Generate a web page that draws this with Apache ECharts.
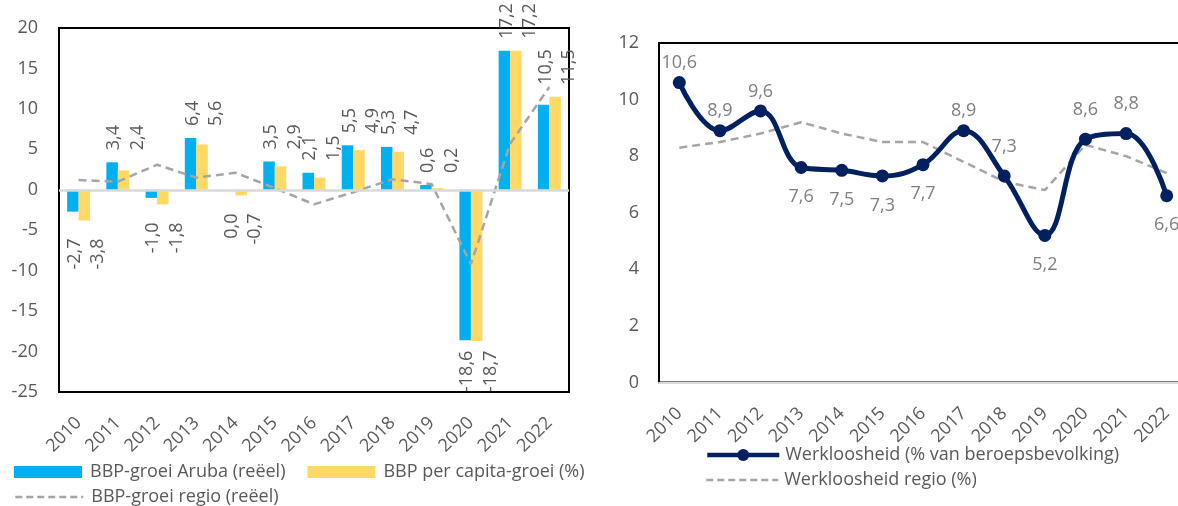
<!DOCTYPE html>
<html>
<head>
<meta charset="utf-8">
<script src="https://cdn.jsdelivr.net/npm/echarts@6/dist/echarts.min.js"></script>
<style>
  html, body { margin: 0; padding: 0; background: #fff; overflow: hidden; width: 1178px; height: 506px; }
  #chart { width: 1200px; height: 506px; }
</style>
</head>
<body>
<div id="chart"></div>
<script>
// ---- Data ----
const years = ['2010','2011','2012','2013','2014','2015','2016','2017','2018','2019','2020','2021','2022'];
const gdpAruba     = [-2.7, 3.4, -1.0, 6.4, 0.0, 3.5, 2.1, 5.5, 5.3, 0.6, -18.6, 17.2, 10.5];
const gdpPerCapita = [-3.8, 2.4, -1.8, 5.6, -0.7, 2.9, 1.5, 4.9, 4.7, 0.2, -18.7, 17.2, 11.5];
const gdpRegion    = [1.2, 1.0, 3.1, 1.5, 2.1, 0.2, -1.8, -0.3, 1.3, 0.7, -9.2, 5.7, 12.7];
const unemployment       = [10.6, 8.9, 9.6, 7.6, 7.5, 7.3, 7.7, 8.9, 7.3, 5.2, 8.6, 8.8, 6.6];
const unemploymentRegion = [8.3, 8.5, 8.8, 9.2, 8.8, 8.5, 8.5, 7.8, 7.1, 6.8, 8.4, 8.0, 7.4];

const seriesNames = {
  aruba: 'BBP-groei Aruba (reëel)',
  capita: 'BBP per capita-groei (%)',
  region: 'BBP-groei regio (reëel)',
  unemp: 'Werkloosheid (% van beroepsbevolking)',
  unempRegion: 'Werkloosheid regio (%)'
};

// ---- Styling ----
const FONT = "'Open Sans', sans-serif";
const TXT = '#595959';
const LBL2 = '#7F7F7F';
const fmt = v => v.toFixed(1).replace('.', ',');

// left grid geometry (style)
const G0 = { left: 59, top: 28, width: 510, height: 364 };
const Y0MIN = -25, Y0MAX = 20;
const PPU = G0.height / (Y0MAX - Y0MIN);

const measureCtx = document.createElement('canvas').getContext('2d');
measureCtx.font = "18px 'Open Sans'";
const textLen = s => measureCtx.measureText(s).width;

// Excel-like label placement: both labels of a year sit at the same height
function barData(arr, other, xShift) {
  return arr.map((v, i) => {
    const o = other[i];
    if (v > 0) {
      const maxPos = Math.max(v, o);
      return { value: v, label: { position: 'top', align: 'left', offset: [0, xShift],
        distance: 12 + (maxPos - v) * PPU } };
    }
    const minNeg = Math.min(v, o, 0);
    let gap = 18;
    const room = (0 - Y0MIN) * PPU - (-minNeg) * PPU - textLen(fmt(v));
    if (room < gap) gap = Math.max(room, 4);
    return { value: v, label: { position: 'bottom', align: 'right', offset: [0, xShift],
      distance: gap + (v - minNeg) * PPU } };
  });
}
const barLabel = {
  show: true, rotate: 90, verticalAlign: 'middle',
  color: TXT, fontSize: 18, fontFamily: FONT,
  formatter: p => fmt(p.value)
};

// label placement for unemployment points (above / below)
const unempLabelStyle = ['t4','t4','t4','b14','b14','b14','b14','t4','t14','b14','t14','t14','b14'];
function unempData(arr) {
  return arr.map((v, i) => {
    const s = unempLabelStyle[i];
    return { value: v, label: { position: s[0] === 't' ? 'top' : 'bottom', distance: +s.slice(1) } };
  });
}

const axisLabelStyle = { color: TXT, fontSize: 18, fontFamily: FONT };
const legendText = pad => ({ color: TXT, fontSize: 18, fontFamily: FONT, padding: [0, 0, 0, pad] });

const option = {
  animation: false,
  backgroundColor: '#fff',
  textStyle: { fontFamily: FONT },
  grid: [
    Object.assign({ show: true, borderColor: '#000', borderWidth: 2, containLabel: false }, G0),
    { left: 659, top: 43, width: 528, height: 339.5, show: true, borderColor: '#000', borderWidth: 2, containLabel: false }
  ],
  xAxis: [
    { type: 'category', gridIndex: 0, data: years, boundaryGap: true,
      axisLine: { show: false }, axisTick: { show: false },
      axisLabel: Object.assign({ rotate: 45, margin: 28, interval: 0 }, axisLabelStyle) },
    { type: 'category', gridIndex: 1, data: years, boundaryGap: true,
      axisLine: { show: true, lineStyle: { color: '#D9D9D9', width: 2 } }, axisTick: { show: false },
      axisLabel: Object.assign({ rotate: 45, margin: 28, interval: 0 }, axisLabelStyle) }
  ],
  yAxis: [
    { type: 'value', gridIndex: 0, min: Y0MIN, max: Y0MAX, interval: 5,
      splitLine: { show: false }, axisLine: { show: false }, axisTick: { show: false },
      axisLabel: Object.assign({ margin: 21 }, axisLabelStyle) },
    { type: 'value', gridIndex: 1, min: 0, max: 12, interval: 2,
      splitLine: { show: false }, axisLine: { show: false }, axisTick: { show: false },
      axisLabel: Object.assign({ margin: 20 }, axisLabelStyle) }
  ],
  legend: [
    { left: 9, top: 458, itemWidth: 68, itemHeight: 12, itemGap: 22, icon: 'rect', selectedMode: false,
      data: [seriesNames.aruba, seriesNames.capita], textStyle: legendText(3) },
    { left: 9, top: 483, itemWidth: 68, itemHeight: 12, selectedMode: false,
      data: [{ name: seriesNames.region, itemStyle: { opacity: 0 },
               lineStyle: { width: 2.5, type: [7, 4], color: '#A5A5A5' } }],
      textStyle: legendText(3) },
    { left: 700, top: 441, itemWidth: 72, itemHeight: 15, selectedMode: false,
      data: [{ name: seriesNames.unemp, lineStyle: { width: 4.5, color: '#002060' } }],
      textStyle: legendText(1) },
    { left: 700, top: 466, itemWidth: 72, itemHeight: 12, selectedMode: false,
      data: [{ name: seriesNames.unempRegion, itemStyle: { opacity: 0 },
               lineStyle: { width: 2.5, type: [7, 4], color: '#A5A5A5' } }],
      textStyle: legendText(1) }
  ],
  series: [
    { name: seriesNames.aruba, type: 'bar', xAxisIndex: 0, yAxisIndex: 0,
      data: barData(gdpAruba, gdpPerCapita, 2), barWidth: 11.5, barGap: '0%',
      itemStyle: { color: '#00B0F0' }, label: barLabel,
      markLine: { silent: true, symbol: 'none', label: { show: false },
        lineStyle: { color: '#D9D9D9', width: 2.5, type: 'solid' },
        data: [{ yAxis: 0 }] } },
    { name: seriesNames.capita, type: 'bar', xAxisIndex: 0, yAxisIndex: 0,
      data: barData(gdpPerCapita, gdpAruba, 14), barWidth: 11.5, barGap: '0%',
      itemStyle: { color: '#FFD966' }, label: barLabel },
    { name: seriesNames.region, type: 'line', xAxisIndex: 0, yAxisIndex: 0,
      data: gdpRegion, symbol: 'none', z: 4,
      itemStyle: { color: '#A5A5A5' },
      lineStyle: { color: '#A5A5A5', width: 2.5, type: [8, 5] } },
    { name: seriesNames.unempRegion, type: 'line', xAxisIndex: 1, yAxisIndex: 1,
      data: unemploymentRegion, symbol: 'none', z: 2,
      itemStyle: { color: '#A5A5A5' },
      lineStyle: { color: '#A5A5A5', width: 2.5, type: [8, 5] } },
    { name: seriesNames.unemp, type: 'line', xAxisIndex: 1, yAxisIndex: 1,
      data: unempData(unemployment), smooth: 0.4, symbol: 'circle', symbolSize: 13, z: 3,
      itemStyle: { color: '#002060' },
      lineStyle: { color: '#002060', width: 5 },
      label: { show: true, color: LBL2, fontSize: 18, fontFamily: FONT, formatter: p => fmt(p.value) } }
  ]
};

const chart = echarts.init(document.getElementById('chart'), null, { renderer: 'canvas' });
chart.setOption(option);
</script>
</body>
</html>
